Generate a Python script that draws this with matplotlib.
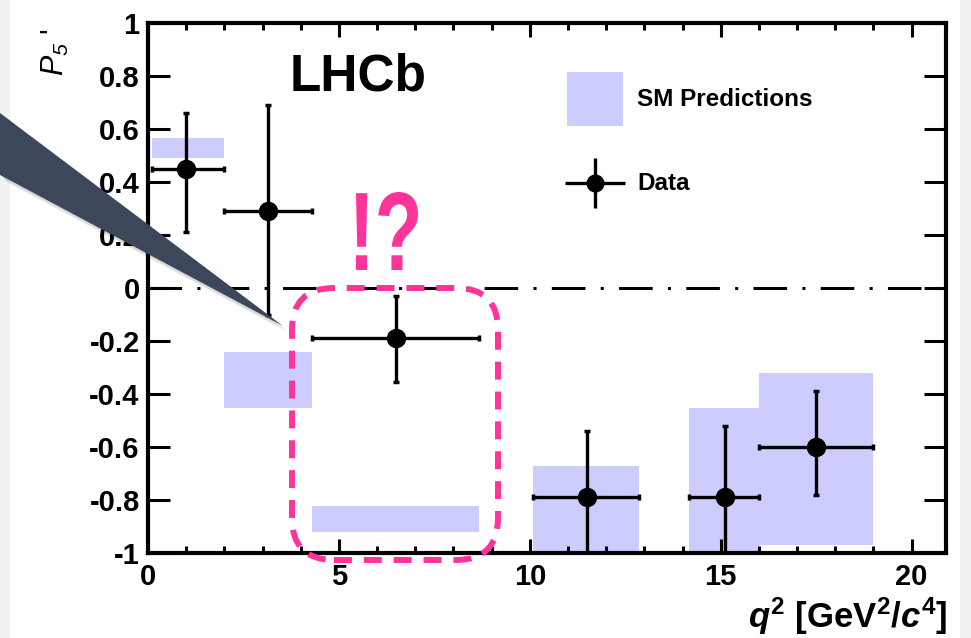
import numpy as np
import matplotlib
matplotlib.use("Agg")
import matplotlib.pyplot as plt
from matplotlib.patches import FancyBboxPatch, Polygon, Rectangle, PathPatch
from matplotlib.transforms import IdentityTransform, Affine2D
from matplotlib.textpath import TextPath
from matplotlib.font_manager import FontProperties

plt.rcParams['font.family'] = ['Liberation Sans', 'DejaVu Sans']
plt.rcParams['axes.unicode_minus'] = False
plt.rcParams['mathtext.fontset'] = 'custom'
plt.rcParams['mathtext.rm'] = 'Liberation Sans:bold'
plt.rcParams['mathtext.bf'] = 'Liberation Sans:bold'
plt.rcParams['mathtext.it'] = 'Liberation Sans:italic:bold'
plt.rcParams['mathtext.sf'] = 'Liberation Sans:italic'

# q2 bins [GeV^2/c^4]
q2_lo = [0.1, 2.0, 4.3, 10.09, 14.18, 16.0]
q2_hi = [2.0, 4.3, 8.68, 12.86, 16.0, 19.0]

# LHCb data
p5_x = [1.0, 3.15, 6.5, 11.5, 15.1, 17.5]
p5 = [0.45, 0.29, -0.19, -0.79, -0.79, -0.60]
p5_up = [0.21, 0.40, 0.16, 0.25, 0.27, 0.21]
p5_dn = [0.24, 0.39, 0.165, 0.25, 0.27, 0.18]

# SM prediction bands
sm_lo = [0.49, -0.454, -0.919, -1.0, -1.0, -0.97]
sm_hi = [0.565, -0.242, -0.824, -0.673, -0.454, -0.32]

W, H = 971, 638
fig = plt.figure(figsize=(W / 100, H / 100), dpi=100)
fig.patch.set_facecolor('white')

# light grey strips at the sides of the slide
fig.add_artist(Rectangle((0, 0), 10 / W, 1, transform=fig.transFigure,
                         facecolor='#f1f1f1', edgecolor='none', zorder=0))
fig.add_artist(Rectangle((960 / W, 0), 11 / W, 1, transform=fig.transFigure,
                         facecolor='#f1f1f1', edgecolor='none', zorder=0))

ax = fig.add_axes([148 / W, 1 - 553 / H, 798 / W, 530 / H])

lo = np.array(q2_lo)
hi = np.array(q2_hi)
x = np.array(p5_x)
band_lo = np.array(sm_lo)
band_hi = np.array(sm_hi)

ax.bar(lo, band_hi - band_lo, width=hi - lo, bottom=band_lo, align='edge',
       color='#ccccff', edgecolor='none', zorder=1)

ax.axhline(0, color='black', lw=2.2, dashes=(11, 5, 1, 5), zorder=2)

ax.errorbar(x, p5, xerr=[x - lo, hi - x], yerr=[p5_dn, p5_up],
            fmt='o', color='black', ms=13, elinewidth=2.4, capsize=2,
            capthick=2.5, zorder=3)

ax.set_xlim(0, 20.9)
ax.set_ylim(-1, 1)
ax.set_xticks([0, 5, 10, 15, 20])
ax.set_xticks(np.arange(0, 21, 1), minor=True)
yt = np.round(np.arange(-1, 1.01, 0.2), 1) + 0.0
ax.set_yticks(yt)
ax.set_yticklabels([f"{v:g}" for v in yt])

for s in ax.spines.values():
    s.set_linewidth(3)
ax.tick_params(axis='both', which='both', direction='in', top=True, right=True,
               width=2.2, labelsize=21)
ax.tick_params(axis='x', which='major', length=10, pad=7)
ax.tick_params(axis='x', which='minor', length=5)
ax.tick_params(axis='y', which='major', length=16, pad=6)
for lab in ax.get_xticklabels() + ax.get_yticklabels():
    lab.set_fontweight('bold')

ax.text(3.7, 0.745, "LHCb", fontsize=37, fontweight='bold', va='baseline')

# legend
ax.add_patch(Rectangle((0.525, 0.806), 0.07, 0.102, transform=ax.transAxes,
                       facecolor='#ccccff', edgecolor='none'))
ax.text(0.613, 0.855, "SM Predictions", transform=ax.transAxes, fontsize=17.5,
        fontweight='bold', va='center')
ax.errorbar([0.560], [0.698], xerr=[[0.0376]], yerr=[[0.047]], fmt='o',
            color='black', ms=12, elinewidth=2.4, capsize=0,
            transform=ax.transAxes, clip_on=False)
ax.text(0.613, 0.698, "Data", transform=ax.transAxes, fontsize=17.5,
        fontweight='bold', va='center')

# axis titles
fig.text(947 / W, 10 / H, r"$q^{2}$ [GeV$^{2}$/$c^{4}$]", fontsize=25,
         fontweight='bold', ha='right', va='baseline')
fig.text(55 / W, 1 - 76 / H, r"$\mathsf{P}_{\mathsf{5}}$ '", fontsize=22,
         rotation=90, ha='center', va='bottom')

# speech bubble wedge with soft shadow
wedge = [(0, H - 113), (0, H - 175), (283, H - 326)]
for i in range(5, 0, -1):
    sh = [(px + 1 + i, py - 2 - i) for px, py in wedge]
    fig.add_artist(Polygon(sh, closed=True, transform=IdentityTransform(),
                           facecolor='black', edgecolor='none', alpha=0.03,
                           zorder=5))
fig.add_artist(Polygon(wedge, closed=True, transform=IdentityTransform(),
                       facecolor='#3d475a', edgecolor='none', zorder=6))

# pink highlight box
pink = '#ff3399'
fig.add_artist(FancyBboxPatch((292, H - 560), 206, 272,
                              boxstyle="round,pad=0,rounding_size=42",
                              transform=IdentityTransform(), facecolor='none',
                              edgecolor=pink, lw=4.3, linestyle=(0, (3, 2)),
                              zorder=7))

# handwritten "!?"
tp = TextPath((0, 0), "!?", size=100,
              prop=FontProperties(family='Liberation Sans', weight='bold'))
ext = tp.get_extents()
tr = (Affine2D().translate(-ext.x0, -ext.y0)
      .scale(62 / ext.width, 78 / ext.height)
      .translate(356, H - 270))
fig.add_artist(PathPatch(tr.transform_path(tp), transform=IdentityTransform(),
                         facecolor=pink, edgecolor='none', zorder=7))

fig.savefig("out.png", dpi=100)
